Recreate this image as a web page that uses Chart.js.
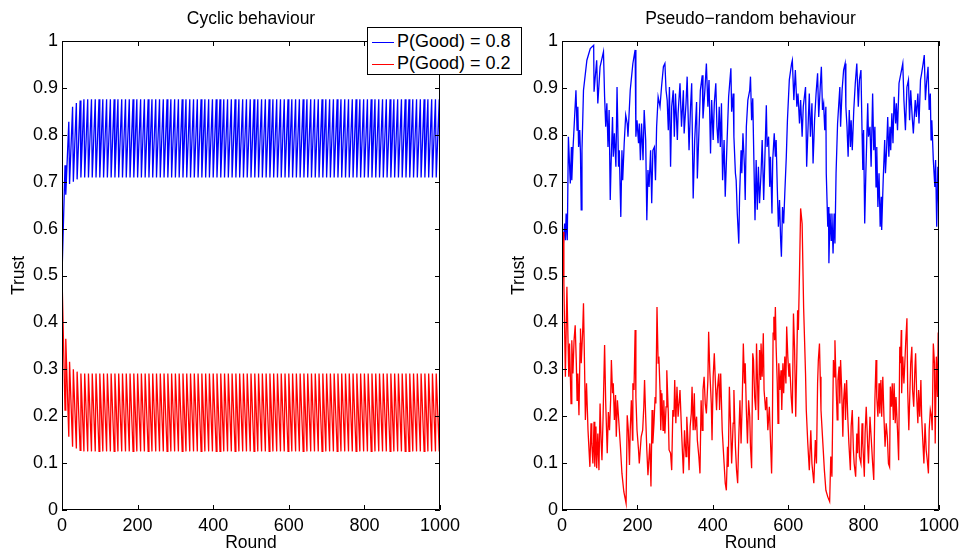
<!DOCTYPE html>
<html lang="en">
<head>
  <meta charset="UTF-8" />
  <title>Trust: cyclic vs pseudo-random behaviour</title>
  <script src="https://cdn.jsdelivr.net/npm/chart.js"></script>
  <style>
    body { margin: 0; background: #fff; }
    #wrap { position: relative; width: 964px; height: 552px; font-family: "Liberation Sans", Arial, sans-serif; }
    .panel { position: absolute; top: 0; height: 552px; }
    #legend {
      position: absolute; left: 367px; top: 27px; width: 155px; height: 48px;
      box-sizing: border-box; border: 1px solid #000; background: #fff; z-index: 2;
    }
    #legend .row { position: absolute; left: 4px; height: 20px; line-height: 20px; font-size: 18px; white-space: nowrap; color: #000; }
    #legend .swatch { display: inline-block; width: 22px; height: 1px; vertical-align: middle; margin-right: 3px; }
  </style>
</head>
<body>
  <div id="wrap">
    <div class="panel" style="left:0;width:482px"><canvas id="cyclicChart" width="482" height="552"></canvas></div>
    <div class="panel" style="left:500px;width:464px"><canvas id="randomChart" width="464" height="552"></canvas></div>
    <div id="legend"></div>
  </div>

  <script>
    // axes
    const xTicks = [0, 200, 400, 600, 800, 1000];
    const xTickLabels = ["0", "200", "400", "600", "800", "1000"];
    const yTicks = [0, 0.1, 0.2, 0.3, 0.4, 0.5, 0.6, 0.7, 0.8, 0.9, 1];
    const yTickLabels = ["0", "0.1", "0.2", "0.3", "0.4", "0.5", "0.6", "0.7", "0.8", "0.9", "1"];
    const seriesLabels = ["P(Good) = 0.8", "P(Good) = 0.2"];

    // left plot: cyclic behaviour (turning points of each 10-round cycle)
    const cycRounds = [
      0,8,10,18,20,28,30,38,40,48,50,58,60,68,70,78,80,88,90,98,
      100,108,110,118,120,128,130,138,140,148,150,158,160,168,170,178,180,188,190,198,
      200,208,210,218,220,228,230,238,240,248,250,258,260,268,270,278,280,288,290,298,
      300,308,310,318,320,328,330,338,340,348,350,358,360,368,370,378,380,388,390,398,
      400,408,410,418,420,428,430,438,440,448,450,458,460,468,470,478,480,488,490,498,
      500,508,510,518,520,528,530,538,540,548,550,558,560,568,570,578,580,588,590,598,
      600,608,610,618,620,628,630,638,640,648,650,658,660,668,670,678,680,688,690,698,
      700,708,710,718,720,728,730,738,740,748,750,758,760,768,770,778,780,788,790,798,
      800,808,810,818,820,828,830,838,840,848,850,858,860,868,870,878,880,888,890,898,
      900,908,910,918,920,928,930,938,940,948,950,958,960,968,970,978,980,988,990,998,
      1000
    ];
    const cycGood = [
      0.50,0.735,0.672,0.828,0.695,0.86,0.70,0.868,0.705,0.873,0.709,0.876,0.709,0.876,0.709,0.876,0.709,0.876,0.709,0.876,
      0.709,0.876,0.709,0.876,0.709,0.876,0.709,0.876,0.709,0.876,0.709,0.876,0.709,0.876,0.709,0.876,0.709,0.876,0.709,0.876,
      0.709,0.876,0.709,0.876,0.709,0.876,0.709,0.876,0.709,0.876,0.709,0.876,0.709,0.876,0.709,0.876,0.709,0.876,0.709,0.876,
      0.709,0.876,0.709,0.876,0.709,0.876,0.709,0.876,0.709,0.876,0.709,0.876,0.709,0.876,0.709,0.876,0.709,0.876,0.709,0.876,
      0.709,0.876,0.709,0.876,0.709,0.876,0.709,0.876,0.709,0.876,0.709,0.876,0.709,0.876,0.709,0.876,0.709,0.876,0.709,0.876,
      0.709,0.876,0.709,0.876,0.709,0.876,0.709,0.876,0.709,0.876,0.709,0.876,0.709,0.876,0.709,0.876,0.709,0.876,0.709,0.876,
      0.709,0.876,0.709,0.876,0.709,0.876,0.709,0.876,0.709,0.876,0.709,0.876,0.709,0.876,0.709,0.876,0.709,0.876,0.709,0.876,
      0.709,0.876,0.709,0.876,0.709,0.876,0.709,0.876,0.709,0.876,0.709,0.876,0.709,0.876,0.709,0.876,0.709,0.876,0.709,0.876,
      0.709,0.876,0.709,0.876,0.709,0.876,0.709,0.876,0.709,0.876,0.709,0.876,0.709,0.876,0.709,0.876,0.709,0.876,0.709,0.876,
      0.709,0.876,0.709,0.876,0.709,0.876,0.709,0.876,0.709,0.876,0.709,0.876,0.709,0.876,0.709,0.876,0.709,0.876,0.709,0.876,
      0.709
    ];
    const cycBad = [
      0.50,0.213,0.365,0.156,0.316,0.135,0.30,0.131,0.295,0.127,0.291,0.125,0.291,0.125,0.291,0.125,0.291,0.125,0.291,0.125,
      0.291,0.125,0.291,0.125,0.291,0.125,0.291,0.125,0.291,0.125,0.291,0.125,0.291,0.125,0.291,0.125,0.291,0.125,0.291,0.125,
      0.291,0.125,0.291,0.125,0.291,0.125,0.291,0.125,0.291,0.125,0.291,0.125,0.291,0.125,0.291,0.125,0.291,0.125,0.291,0.125,
      0.291,0.125,0.291,0.125,0.291,0.125,0.291,0.125,0.291,0.125,0.291,0.125,0.291,0.125,0.291,0.125,0.291,0.125,0.291,0.125,
      0.291,0.125,0.291,0.125,0.291,0.125,0.291,0.125,0.291,0.125,0.291,0.125,0.291,0.125,0.291,0.125,0.291,0.125,0.291,0.125,
      0.291,0.125,0.291,0.125,0.291,0.125,0.291,0.125,0.291,0.125,0.291,0.125,0.291,0.125,0.291,0.125,0.291,0.125,0.291,0.125,
      0.291,0.125,0.291,0.125,0.291,0.125,0.291,0.125,0.291,0.125,0.291,0.125,0.291,0.125,0.291,0.125,0.291,0.125,0.291,0.125,
      0.291,0.125,0.291,0.125,0.291,0.125,0.291,0.125,0.291,0.125,0.291,0.125,0.291,0.125,0.291,0.125,0.291,0.125,0.291,0.125,
      0.291,0.125,0.291,0.125,0.291,0.125,0.291,0.125,0.291,0.125,0.291,0.125,0.291,0.125,0.291,0.125,0.291,0.125,0.291,0.125,
      0.291,0.125,0.291,0.125,0.291,0.125,0.291,0.125,0.291,0.125,0.291,0.125,0.291,0.125,0.291,0.125,0.291,0.125,0.291,0.125,
      0.291
    ];

    // right plot: pseudo-random behaviour
    const randGoodRounds = [
      0,2,7,9,11,14,17,22,25,26,29,33,37,40,42,44,47,49,51,53,57,66,75,84,85,92,95,101,110,113,
      116,119,122,125,128,130,134,136,139,143,146,150,152,156,159,161,165,169,173,175,181,188,194,196,199,203,205,208,211,215,
      218,222,225,228,231,235,238,241,245,248,251,255,260,264,269,273,276,279,282,285,288,291,295,298,301,306,308,
      313,317,322,324,329,332,337,341,344,348,352,357,359,364,367,372,374,379,383,387,390,394,397,401,404,408,411,414,417,420,
      423,426,430,433,438,442,448,450,454,456,460,462,465,469,471,475,477,480,484,486,489,493,498,500,503,506,508,512,515,518,
      521,524,528,531,535,538,542,544,548,551,553,557,559,563,566,568,571,574,577,580,582,585,588,591,595,598,603,609,611,615,
      619,623,626,630,633,637,640,
      646,649,654,656,659,663,666,670,674,678,681,685,688,691,694,697,700,701,705,707,708,711,714,716,719,722,724,727,731,737,
      739,743,747,751,753,756,759,762,765,767,770,774,778,782,786,789,793,796,798,800,803,806,811,813,817,820,824,827,830,833,
      835,838,841,844,847,848,852,856,858,861,864,867,870,872,875,878,881,885,887,890,894,899,904,907,911,915,919,922,925,929,
      932,937,940,944,947,951,954,958,961,964,967,971,974,977,979,981,985,989,991,994,997,1000
    ];
    const randGood = [
      0.504,0.547,0.611,0.575,0.632,0.575,0.796,0.696,0.774,0.703,0.767,0.831,0.895,0.81,0.86,0.774,0.81,0.76,0.64,0.767,0.895,0.959,0.984,0.991,0.892,0.959,0.867,0.945,0.977,0.881,
      0.817,0.867,0.774,0.853,0.661,0.732,0.838,0.753,0.803,0.732,0.902,0.732,0.767,0.625,0.767,0.703,0.782,0.842,0.824,0.796,0.895,0.952,0.981,0.796,0.831,0.782,0.824,0.746,0.824,0.746,
      0.853,0.789,0.618,0.725,0.689,0.767,0.654,0.767,0.774,0.703,0.817,0.881,0.86,0.902,0.945,0.952,0.895,0.874,0.81,0.902,0.732,0.86,0.895,0.796,0.888,0.789,0.846,
      0.91,0.817,0.895,0.803,0.867,0.924,0.767,0.86,0.91,0.664,0.789,0.87,0.707,0.824,0.895,0.927,0.835,0.895,0.952,0.86,0.917,0.76,0.874,0.789,0.867,0.91,0.817,0.782,0.86,0.774,
      0.867,0.703,0.789,0.668,0.789,0.881,0.942,0.849,0.888,0.796,0.718,0.703,0.632,0.568,0.668,0.767,0.718,0.803,0.732,0.661,0.817,0.874,0.895,0.924,0.831,0.878,0.789,0.618,0.746,0.64,
      0.732,0.654,0.718,0.789,0.661,0.746,0.863,0.774,0.796,0.689,0.753,0.632,0.746,0.803,0.753,0.789,0.689,0.604,0.661,0.575,0.54,0.646,0.611,0.675,0.753,0.831,0.917,0.952,0.959,0.874,
      0.938,0.86,0.888,0.824,0.874,0.796,0.86,
      0.902,0.732,0.846,0.888,0.796,0.867,0.739,0.831,0.888,0.931,0.838,0.902,0.945,0.853,0.867,0.81,0.86,0.718,0.604,0.646,0.526,0.632,0.575,0.632,0.547,0.632,0.568,0.718,0.824,0.902,
      0.817,0.895,0.938,0.952,0.86,0.817,0.753,0.853,0.774,0.831,0.767,0.853,0.91,0.952,0.86,0.917,0.938,0.803,0.725,0.81,0.611,0.718,0.867,0.796,0.817,0.732,0.888,0.767,0.817,0.689,
      0.774,0.646,0.718,0.604,0.668,0.597,0.703,0.789,0.718,0.767,0.838,0.753,0.817,0.767,0.846,0.782,0.881,0.824,0.867,0.81,0.91,0.931,0.952,0.874,0.81,0.902,0.917,0.831,0.895,0.838,
      0.803,0.874,0.838,0.888,0.824,0.917,0.931,0.952,0.97,0.874,0.91,0.945,0.853,0.888,0.789,0.831,0.746,0.689,0.746,0.604,0.732,0.62
    ];
    const randBadRounds = [
      0,2,3,5,9,13,18,20,24,26,29,32,35,38,40,42,45,48,49,51,55,57,60,62,65,69,74,77,79,82,
      85,87,90,92,95,98,101,104,106,109,113,116,120,123,126,129,131,134,136,139,142,144,147,151,155,159,164,170,173,176,
      179,181,184,187,188,191,194,196,199,203,205,210,214,217,219,222,225,228,233,236,239,241,244,247,249,252,255,257,260,262,
      265,268,270,273,276,278,282,284,288,291,294,297,299,302,305,308,
      313,317,322,325,329,331,335,337,340,343,345,348,351,353,357,359,363,366,369,372,374,377,380,383,387,389,392,396,398,401,
      404,407,410,412,416,418,421,425,430,433,436,439,441,444,447,450,454,456,460,463,466,469,472,475,478,481,484,486,489,492,
      495,498,500,503,506,508,511,514,516,519,521,524,527,528,531,534,536,540,543,546,550,553,556,558,560,562,564,566,568,571,
      573,575,578,581,583,586,588,591,594,596,599,602,604,608,611,614,617,620,623,625,627,630,633,637,641,
      646,648,652,656,660,663,668,672,675,678,680,683,685,687,692,696,700,705,710,713,716,720,723,724,727,730,732,735,737,739,
      742,745,747,750,752,755,758,761,765,767,770,773,775,779,782,784,787,789,793,796,798,802,804,807,811,813,817,820,824,827,
      830,833,835,838,841,843,846,848,851,854,857,860,863,866,869,871,874,876,879,881,884,886,890,893,896,898,900,901,904,907,
      909,912,915,917,920,923,925,928,930,933,936,938,941,944,946,949,952,954,957,960,963,966,969,972,974,977,980,982,985,988,
      990,993,996,998,1000
    ];
    const randBad = [
      0.497,0.533,0.593,0.483,0.284,0.476,0.284,0.355,0.227,0.362,0.291,0.362,0.394,0.313,0.234,0.291,0.202,0.355,0.387,0.313,0.384,0.441,0.298,0.192,0.27,0.17,0.092,0.185,0.142,0.099,
      0.188,0.092,0.178,0.089,0.163,0.085,0.227,0.142,0.106,0.199,0.352,0.227,0.121,0.209,0.17,0.234,0.32,0.249,0.27,0.192,0.245,0.156,0.234,0.185,0.135,0.078,0.039,0.014,0.202,0.17,
      0.096,0.17,0.234,0.149,0.27,0.256,0.384,0.241,0.17,0.128,0.099,0.156,0.17,0.22,0.277,0.199,0.128,0.074,0.142,0.05,0.213,0.142,0.185,0.241,0.227,0.433,0.313,0.327,0.256,0.17,
      0.249,0.17,0.234,0.163,0.22,0.298,0.206,0.128,0.121,0.085,0.213,0.199,0.277,0.185,0.263,0.199,
      0.256,0.17,0.078,0.17,0.114,0.199,0.135,0.085,0.178,0.206,0.263,0.17,0.249,0.17,0.199,0.149,0.114,0.078,0.234,0.17,0.256,0.284,0.227,0.206,0.277,0.38,0.298,0.227,0.149,0.284,
      0.334,0.27,0.213,0.256,0.291,0.213,0.291,0.17,0.099,0.057,0.042,0.135,0.092,0.263,0.185,0.099,0.185,0.256,0.135,0.085,0.057,0.156,0.234,0.142,0.227,0.355,0.27,0.313,0.213,0.142,
      0.234,0.199,0.135,0.089,0.334,0.32,0.241,0.213,0.355,0.263,0.192,0.341,0.277,0.355,0.284,0.377,0.256,0.213,0.241,0.17,0.22,0.149,0.078,0.17,0.377,0.412,0.362,0.433,0.348,0.27,
      0.185,0.313,0.256,0.298,0.213,0.313,0.249,0.327,0.27,0.391,0.327,0.284,0.313,0.241,0.206,0.419,0.341,0.199,0.327,0.426,0.384,0.505,0.643,0.61,0.43,
      0.291,0.213,0.142,0.085,0.17,0.099,0.057,0.149,0.099,0.27,0.32,0.355,0.284,0.213,0.142,0.085,0.042,0.028,0.018,0.114,0.071,0.32,0.284,0.362,0.27,0.192,0.277,0.306,0.227,0.32,
      0.256,0.156,0.234,0.27,0.192,0.277,0.199,0.142,0.085,0.178,0.213,0.128,0.099,0.071,0.163,0.121,0.199,0.114,0.099,0.185,0.142,0.071,0.163,0.22,0.135,0.099,0.199,0.156,0.099,0.064,
      0.234,0.32,0.241,0.199,0.27,0.206,0.277,0.199,0.284,0.199,0.135,0.185,0.156,0.099,0.092,0.263,0.22,0.27,0.192,0.27,0.185,0.241,0.17,0.106,0.348,0.313,0.384,0.249,0.327,0.27,
      0.306,0.362,0.409,0.256,0.17,0.256,0.313,0.348,0.256,0.22,0.298,0.334,0.241,0.185,0.256,0.199,0.277,0.199,0.149,0.099,0.185,0.128,0.106,0.078,0.17,0.213,0.199,0.17,0.355,0.313,
      0.142,0.327,0.241,0.377,0.384
    ];

    const FONT = '"Liberation Sans", Arial, sans-serif';
    const colors = ["#0000ff", "#ff0000"];

    // title above each axes
    const plotTitle = {
      id: "plotTitle",
      afterDraw(chart, args, opts) {
        const { ctx, chartArea } = chart;
        ctx.save();
        ctx.font = "17.5px " + FONT;
        ctx.fillStyle = "#000";
        ctx.textAlign = "center";
        ctx.textBaseline = "alphabetic";
        ctx.fillText(opts.text, (chartArea.left + chartArea.right) / 2, chartArea.top - 17.5);
        ctx.restore();
      }
    };

    // matlab style box with inward ticks
    const boxFrame = {
      id: "boxFrame",
      afterDatasetsDraw(chart) {
        const { ctx, chartArea: a, scales } = chart;
        const len = 5;
        ctx.save();
        ctx.strokeStyle = "#000";
        ctx.lineWidth = 1;
        ctx.beginPath();
        ctx.rect(a.left + 0.5, a.top + 0.5, a.right - a.left - 1, a.bottom - a.top - 1);
        xTicks.forEach(v => {
          const px = Math.round(scales.x.getPixelForValue(v)) + 0.5;
          ctx.moveTo(px, a.bottom); ctx.lineTo(px, a.bottom - len);
          ctx.moveTo(px, a.top); ctx.lineTo(px, a.top + len);
        });
        yTicks.forEach(v => {
          const py = Math.round(scales.y.getPixelForValue(v)) + 0.5;
          ctx.moveTo(a.left, py); ctx.lineTo(a.left + len, py);
          ctx.moveTo(a.right, py); ctx.lineTo(a.right - len, py);
        });
        ctx.stroke();
        ctx.restore();
      }
    };

    const toPoints = (xs, ys) => xs.map((x, i) => ({ x: x, y: ys[i] }));

    function makeChart(canvasId, title, goodX, goodY, badX, badY, padRight) {
      const tickFont = { family: FONT, size: 18 };
      const labelFont = { family: FONT, size: 17.5, lineHeight: 1 };
      return new Chart(document.getElementById(canvasId), {
        type: "line",
        data: {
          datasets: [
            { label: seriesLabels[0], data: toPoints(goodX, goodY), borderColor: colors[0], order: 1 },
            { label: seriesLabels[1], data: toPoints(badX, badY), borderColor: colors[1], order: 0 }
          ]
        },
        options: {
          responsive: false,
          animation: false,
          events: [],
          layout: { padding: { top: 41, right: padRight, left: 0, bottom: 0 } },
          elements: {
            line: { borderWidth: 1.3, tension: 0, fill: false },
            point: { radius: 0 }
          },
          plugins: {
            legend: { display: false },
            tooltip: { enabled: false },
            plotTitle: { text: title }
          },
          scales: {
            x: {
              type: "linear", min: 0, max: 1000,
              afterBuildTicks: s => { s.ticks = xTicks.map(v => ({ value: v })); },
              afterFit: s => { s.height = 42; },
              grid: { display: false, drawTicks: false },
              border: { display: false },
              ticks: { font: tickFont, color: "#000", padding: 5, maxRotation: 0, autoSkip: false,
                       callback: (v, i) => xTickLabels[i] },
              title: { display: true, text: "Round", font: labelFont, color: "#000", padding: { top: 0, bottom: 0 } }
            },
            y: {
              type: "linear", min: 0, max: 1,
              afterBuildTicks: s => { s.ticks = yTicks.map(v => ({ value: v })); },
              afterFit: s => { s.width = 62; },
              grid: { display: false, drawTicks: false },
              border: { display: false },
              ticks: { font: tickFont, color: "#000", padding: 4, autoSkip: false,
                       callback: (v, i) => yTickLabels[i] },
              title: { display: true, text: "Trust", font: labelFont, color: "#000", padding: { top: 10.5, bottom: 0 } }
            }
          }
        },
        plugins: [plotTitle, boxFrame]
      });
    }

    const cyclicChart = makeChart("cyclicChart", "Cyclic behaviour", cycRounds, cycGood, cycRounds, cycBad, 42);
    makeChart("randomChart", "Pseudo\u2212random behaviour", randGoodRounds, randGood, randBadRounds, randBad, 24);

    // legend box, built from the left chart's datasets
    const legend = document.getElementById("legend");
    cyclicChart.data.datasets.forEach((ds, i) => {
      const row = document.createElement("div");
      row.className = "row";
      row.style.top = (3 + i * 22) + "px";
      row.innerHTML = '<span class="swatch" style="background:' + ds.borderColor + '"></span>' + ds.label;
      legend.appendChild(row);
    });
  </script>
</body>
</html>
